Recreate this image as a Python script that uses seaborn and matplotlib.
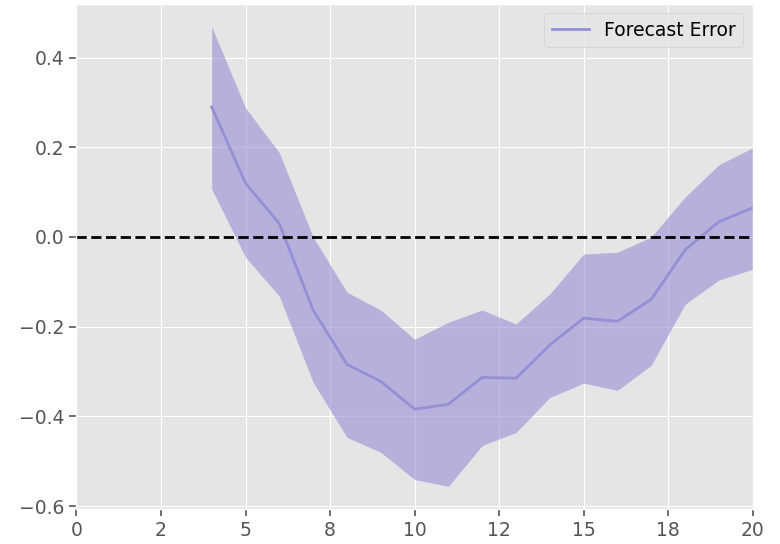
import numpy as np
import pandas as pd
import matplotlib
matplotlib.use("Agg")
import matplotlib.pyplot as plt
import seaborn as sns
from matplotlib.ticker import MultipleLocator, StrMethodFormatter

# Donnees
horizon = [4, 5, 6, 7, 8, 9, 10, 11, 12, 13, 14, 15, 16, 17, 18, 19, 20]
erreur = [0.29, 0.12, 0.03, -0.163, -0.284, -0.322, -0.384, -0.373, -0.313,
          -0.315, -0.241, -0.181, -0.188, -0.139, -0.029, 0.034, 0.065]
borne_haute = [0.469, 0.288, 0.188, 0.0, -0.123, -0.163, -0.228, -0.19, -0.163,
               -0.194, -0.127, -0.038, -0.034, 0.0, 0.089, 0.161, 0.199]
borne_basse = [0.107, -0.045, -0.132, -0.324, -0.447, -0.48, -0.541, -0.556, -0.465,
               -0.436, -0.358, -0.326, -0.342, -0.286, -0.15, -0.096, -0.072]

df = pd.DataFrame({"horizon": horizon, "erreur": erreur})

plt.style.use("ggplot")
couleur = "#988ED5"

fig, ax = plt.subplots(figsize=(7.8, 5.44), dpi=100)

sns.lineplot(data=df, x="horizon", y="erreur", ax=ax, color=couleur,
             linewidth=2, label="Forecast Error")
ax.fill_between(horizon, borne_basse, borne_haute, color=couleur, alpha=0.6, linewidth=0)
ax.axhline(0, color="black", linestyle="--", linewidth=2)

ax.set_xlim(0, 20)
ax.set_ylim(-0.607, 0.52)
ax.xaxis.set_major_locator(MultipleLocator(2.5))
ax.xaxis.set_major_formatter(StrMethodFormatter("{x:.0f}"))
ax.set_xlabel("")
ax.set_ylabel("")
ax.tick_params(labelsize=13.5, colors="#555555", length=5, width=1.2)
ax.legend(loc="upper right", fontsize=13.5)

plt.subplots_adjust(left=0.098, right=0.965, top=0.993, bottom=0.064)
plt.savefig("out.png", dpi=100)
